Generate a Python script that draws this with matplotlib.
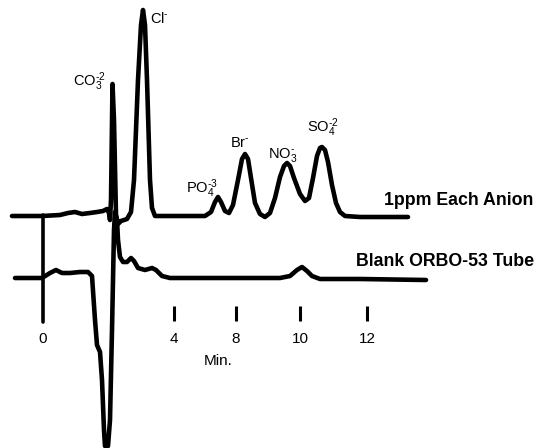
import matplotlib.pyplot as plt

plt.rcParams['font.family'] = ['Liberation Sans', 'DejaVu Sans']
plt.rcParams['mathtext.fontset'] = 'custom'
plt.rcParams['mathtext.rm'] = 'Liberation Sans'
plt.rcParams['mathtext.it'] = 'Liberation Sans'

# chromatogram traces, chart units (y grows downward)
std_x = [12, 30, 42, 60, 68, 75, 82, 90, 97, 103, 107, 109, 110, 111, 112.5, 114, 116, 118,
         121, 127, 131, 134, 138, 141, 143, 145, 147, 150, 152, 155, 165, 205, 211, 215,
         218, 221, 225, 229, 233, 238, 242, 245, 248, 251, 255, 260, 265, 270, 275, 280,
         284, 287, 290, 294, 300, 305, 309, 313, 317, 320, 322, 325, 328, 332, 336, 340,
         345, 360, 408]
std_y = [216, 216, 216, 215, 213, 212, 214, 213, 212, 211, 209, 213, 220, 200, 84, 120, 215, 224,
         221, 219, 212, 180, 80, 25, 10, 25, 80, 180, 208, 216, 216, 216, 212, 202,
         197, 202, 211, 213, 205, 180, 159, 154, 159, 178, 203, 214, 217, 213, 198, 177,
         166, 163, 166, 178, 194, 201, 198, 178, 156, 148, 147, 150, 162, 185, 203, 212,
         216, 217, 217]

blank_x = [15, 30, 42, 50, 56, 62, 70, 80, 88, 92, 95, 97, 100, 102, 104, 105, 108, 110,
           112, 113, 114, 115, 117, 118, 120, 123, 127, 131, 134, 138, 145, 152, 156, 162,
           170, 280, 290, 297, 302, 307, 312, 320, 360, 426]
blank_y = [278, 278, 278, 273, 270, 273, 273, 272, 272, 276, 320, 345, 352, 380, 430, 446, 446, 420,
           330, 280, 230, 212, 220, 240, 257, 262, 262, 258, 261, 268, 270, 268, 270, 276,
           278, 278, 276, 270, 267, 271, 276, 279, 279, 280]

inject_x = 43
inject_span = (215, 322)

tick_pos = [43, 174, 236, 300, 367]
tick_labels = ['0', '4', '8', '10', '12']

peak_labels = [r'Cl$^{\text{-}}$', r'CO$_3^{\text{-}2}$', r'PO$_4^{\text{-}3}$', r'Br$^{\text{-}}$',
               r'NO$_3^{\text{-}}$', r'SO$_4^{\text{-}2}$']
peak_label_xy = [(150, 23), (73, 86), (186, 193), (230, 147), (268, 158), (307, 132)]

trace_names = ['1ppm Each Anion', 'Blank ORBO-53 Tube']
trace_name_xy = [(384, 205), (356, 266)]

fig = plt.figure(figsize=(5.45, 4.48), dpi=100)
ax = fig.add_axes([0, 0, 1, 1])
ax.set_xlim(0, 545)
ax.set_ylim(448, 0)
ax.axis('off')

lw = 3.3
ax.plot(std_x, std_y, color='black', lw=lw, solid_joinstyle='round', solid_capstyle='round')
ax.plot(blank_x, blank_y, color='black', lw=lw, solid_joinstyle='round', solid_capstyle='round')
ax.plot([inject_x, inject_x], inject_span, color='black', lw=2.6, solid_capstyle='round')

# time axis marks
ax.vlines(tick_pos[1:], 306, 321, color='black', lw=2.2)
for x, t in zip(tick_pos, tick_labels):
    ax.text(x, 343, t, ha='center', va='baseline', fontsize=11)
ax.text(218, 365, 'Min.', ha='center', va='baseline', fontsize=11)

for (x, y), s in zip(peak_label_xy, peak_labels):
    ax.text(x, y, s, ha='left', va='baseline', fontsize=10.5)

for (x, y), s in zip(trace_name_xy, trace_names):
    ax.text(x, y, s, ha='left', va='baseline', fontsize=12.8, fontweight='bold')

fig.savefig('out.png', dpi=100)
